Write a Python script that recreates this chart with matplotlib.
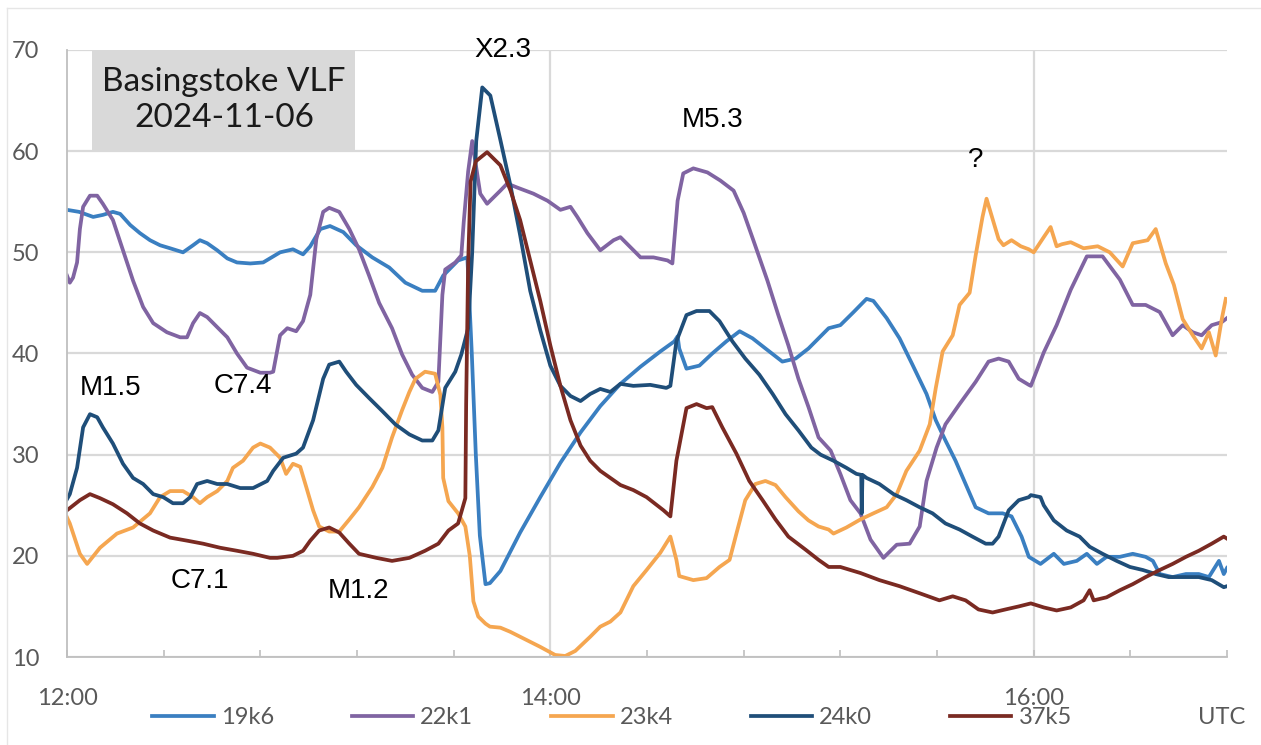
import matplotlib
matplotlib.use("Agg")
import matplotlib.pyplot as plt
from matplotlib.lines import Line2D
from matplotlib.patches import Rectangle
import numpy as np

# Minutes after 12:00 UTC and received signal level for each VLF transmitter
t_19k6 = [0, 3, 6.5, 8.9, 11.4, 13.2, 15.7, 18.1, 20.6, 23.1, 25.6, 28.8, 31.3, 33, 34.8, 37.3, 39.8,
          42.2, 45.5, 48.7, 52.9, 56.1, 58.6, 60.4, 62.9, 65.3, 68.6, 71.8, 75.8, 80, 84, 88.2, 91.4,
          93.4, 97.1, 99.4, 100.5, 101.5, 102.5, 103.9, 105, 107.6, 112.5, 117.5, 122.5, 127.5, 132.4,
          137.4, 142.4, 147.3, 150.8, 151.6, 152.0, 153.8, 157, 160.2, 163.7, 167, 170.2, 173.4, 177.6,
          180.9, 184.1, 189.1, 192, 195.3, 198.5, 200.2, 203.5, 206.7, 209.9, 213.4, 215.7, 218.1, 220.6,
          223.1, 225.6, 228.8, 232.3, 234.5, 237, 238.8, 241.7, 245, 247.5, 250.7, 253.2, 255.7, 258.1,
          261.4, 264.6, 267.8, 269.6, 271.3, 274.5, 277.8, 281, 283.5, 286, 287.2, 288]
v_19k6 = [54.2, 54.0, 53.5, 53.7, 54.0, 53.8, 52.7, 51.9, 51.2, 50.7, 50.4, 50.0, 50.7, 51.2, 50.9, 50.2, 49.4,
          49.0, 48.9, 49.0, 50.0, 50.3, 49.8, 50.6, 52.3, 52.6, 52.0, 50.7, 49.5, 48.5, 47.0, 46.2, 46.2,
          47.7, 49.2, 49.5, 40.0, 30.0, 22.0, 17.2, 17.3, 18.5, 22.3, 25.8, 29.2, 32.2, 34.8,
          37.0, 38.7, 40.2, 41.2, 41.7, 40.5, 38.5, 38.8, 40.0, 41.2, 42.2, 41.5, 40.5, 39.2,
          39.5, 40.5, 42.5, 42.8, 44.1, 45.4, 45.2, 43.5, 41.5, 38.9, 36.0, 33.4, 31.4, 29.4,
          27.1, 24.8, 24.2, 24.2, 23.9, 21.9, 19.9, 19.2, 20.2, 19.2, 19.5, 20.2, 19.2, 19.9,
          19.9, 20.2, 19.9, 19.5, 18.2, 17.9, 18.2, 18.2, 17.9, 19.5, 18.2, 18.8]

t_22k1 = [0, 0.7, 1.5, 2.5, 3.2, 4, 5.7, 7.5, 8.9, 11.4, 13.9, 16.4, 18.9, 21.4, 24.8, 28.1, 29.8, 31.3, 33,
          34.8, 37.3, 39.8, 42.2, 44.7, 48, 50.4, 51.2, 52.9, 54.7, 56.9, 58.6, 60.4, 61.9, 63.6, 65.1,
          67.6, 70.1, 72.5, 75, 77.5, 80.7, 83.2, 85.7, 88.2, 90.7, 92.2, 93.2, 93.9, 96.4, 97.9, 98.5,
          99.6, 100.6, 102.6, 104.3, 107.6, 109.3, 111.8, 115.8, 119.3, 122.5, 125, 126.7, 129.2, 132.4,
          135.7, 137.4, 139.9, 142.4, 145.6, 149.1, 150.3, 151.6, 153, 155.5, 159, 162.2, 165.5, 168,
          170.4, 173.9, 176.6, 179.1, 181.6, 184.1, 186.6, 189.6, 192, 194.5, 197, 199.5, 202.7, 206,
          209.2, 211.7, 213.4, 215.9, 218.1, 221.6, 225.6, 228.8, 231.3, 233.8, 236.3, 238.8, 239.3,
          242.5, 245.7, 249.2, 253.2, 257.1, 261.4, 264.6, 267.8, 271.3, 274.5, 277, 279.5, 281.7,
          284.2, 286.7, 288]
v_22k1 = [47.7, 47.0, 47.5, 49.0, 52.3, 54.5, 55.6, 55.6, 54.8, 53.2, 50.2, 47.2, 44.6, 43.0, 42.1, 41.6, 41.6,
          43.0, 44.0, 43.6, 42.6, 41.6, 40.0, 38.6, 38.1, 38.1, 38.2, 41.8, 42.5, 42.2, 43.2, 45.8, 51.3,
          54.0, 54.4, 54.0, 52.3, 50.3, 47.7, 45.0, 42.5, 39.9, 37.9, 36.6, 36.2, 37.2, 45.8, 48.3, 49.0,
          49.7, 53.0, 58.0, 61.0, 55.8, 54.8, 56.1, 56.8, 56.4, 55.8, 55.1, 54.2, 54.5, 53.5, 51.9, 50.2,
          51.2, 51.5, 50.5, 49.5, 49.5, 49.2, 48.9, 55.1, 57.8, 58.3, 57.9, 57.1, 56.1, 53.9, 51.2, 47.2,
          43.8, 40.8, 37.5, 34.7, 31.7, 30.4, 28.1, 25.5, 24.2, 21.6, 19.8, 21.1, 21.2, 22.9, 27.4, 30.7,
          33.0, 35.0, 37.2, 39.2, 39.5, 39.2, 37.5, 36.9, 36.8, 40.1, 42.8, 46.3, 49.6, 49.6, 47.3, 44.8,
          44.8, 44.1, 41.8, 42.8, 42.1, 41.8, 42.8, 43.1, 43.5]

t_23k4 = [0, 0.7, 3.2, 5, 8.2, 12.4, 16.4, 20.6, 23.1, 25.6, 28.8, 31.3, 33, 34.8, 37.3, 39.8, 41.2, 43.7,
          46.2, 48, 50.4, 52.9, 54.4, 56.1, 57.9, 59.4, 61.1, 62.6, 65.1, 67.6, 70.1, 72.5, 75.8, 78.3,
          80.7, 83.2, 85, 86.5, 88.9, 91.4, 92.7, 93.2, 93.4, 94.7, 97.1, 98.9, 100, 100.9, 102.1, 103.9,
          105, 107.6, 110, 112.5, 117.5, 121.2, 123.7, 126.2, 129.9, 132.4, 134.9, 137.4, 140.6, 143.9,
          147.3, 149.8, 151.3, 152, 155.5, 158.8, 162, 164.5, 166.2, 168.4, 170.9, 173.4, 175.9, 178.4,
          181.6, 184.1, 186.6, 189.1, 190.3, 193.5, 197, 200.2, 203.5, 206, 208.4, 211.7, 214.2, 215.7,
          217.4, 219.9, 221.6, 224.1, 225.6, 227.3, 228.3, 231.3, 232.5, 234.5, 236.8, 238.8, 240,
          242.5, 244.2, 245.7, 247, 249.2, 252.4, 255.9, 258.9, 262.1, 264.6, 268.3, 270.3, 272.8,
          274.8, 277, 279.5, 281.7, 283.5, 285.2, 286.7, 287.7]
v_23k4 = [23.8, 23.2, 20.2, 19.2, 20.8, 22.2, 22.8, 24.2, 25.8, 26.4, 26.4, 25.8, 25.2, 25.8, 26.4, 27.4, 28.7,
          29.4, 30.7, 31.1, 30.7, 29.7, 28.1, 29.1, 28.8, 26.8, 24.5, 22.9, 22.4, 22.4, 23.6, 24.8, 26.8,
          28.7, 31.7, 34.4, 36.2, 37.5, 38.2, 38.0, 35.9, 32.7, 27.7, 25.4, 24.2, 22.9, 20.0, 15.5, 14.0,
          13.3, 13.0, 12.9, 12.5, 12.0, 11.0, 10.2, 10.1, 10.6, 12.0, 13.0, 13.5, 14.4, 17.0, 18.6, 20.3,
          21.9, 19.6, 18.0, 17.6, 17.8, 18.9, 19.6, 22.2, 25.5, 27.1, 27.4, 27.0, 25.8, 24.4, 23.5, 22.9,
          22.6, 22.2, 22.8, 23.6, 24.2, 24.8, 26.1, 28.4, 30.4, 33.0, 36.6, 40.2, 41.8, 44.8, 46.0, 49.7,
          53.5, 55.3, 51.3, 50.7, 51.2, 50.6, 50.3, 50.0, 51.5, 52.5, 50.6, 50.8, 51.0, 50.4, 50.6, 50.0,
          48.6, 50.9, 51.2, 52.3, 48.9, 46.8, 43.4, 41.8, 40.5, 42.1, 39.8, 43.4, 45.4]

t_24k0 = [0, 0.7, 2.5, 4, 5.7, 7.5, 8.9, 11.4, 13.9, 16.4, 18.9, 21.4, 23.9, 26.3, 28.8, 30.6, 32.3, 34.8,
          37.3, 39.8, 43, 46.2, 49.7, 51.2, 53.7, 56.9, 58.6, 61.1, 63.6, 65.1, 67.6, 69.3, 71.8, 75, 78.3,
          81.5, 85, 88.2, 90.7, 92.2, 93.9, 96.4, 97.9, 99.6, 100.6, 101.6, 103.1, 105.1, 107.6, 110.1,
          112.5, 115, 117.5, 120, 122.5, 125, 127.5, 129.9, 132.4, 134.9, 137.4, 140.6, 144.8, 148.8,
          149.8, 151.3, 153.8, 156.3, 159.5, 162, 165.2, 168.4, 171.9, 175.2, 178.4, 181.6, 184.8, 187.1,
          190.3, 193.5, 196, 197.2, 197.3, 197.5, 198.5, 201.7, 205.2, 208.4, 211.7, 214.9, 218.1, 221.6,
          224.8, 228.1, 229.8, 231.3, 233.8, 236.3, 238.8, 239.3, 241.7, 242.5, 245, 248.2, 251.4,
          253.9, 257.1, 260.6, 263.9, 267.1, 270.3, 273.5, 277.8, 281, 284.2, 287.2, 288]
v_24k0 = [25.6, 26.1, 28.7, 32.7, 34.0, 33.7, 32.7, 31.1, 29.1, 27.7, 27.1, 26.1, 25.8, 25.2, 25.2, 25.8, 27.1,
          27.4, 27.1, 27.1, 26.7, 26.7, 27.4, 28.4, 29.7, 30.1, 30.7, 33.4, 37.5, 38.9, 39.2, 38.2, 36.9,
          35.6, 34.3, 33.0, 32.0, 31.4, 31.4, 32.4, 36.6, 38.2, 39.9, 42.5, 50.0, 61.0, 66.3, 65.5, 61.1,
          56.6, 51.7, 46.2, 42.3, 38.8, 36.8, 35.8, 35.3, 36.0, 36.5, 36.2, 37.0, 36.8, 36.9, 36.6, 36.8,
          41.2, 43.8, 44.2, 44.2, 43.2, 41.2, 39.5, 37.9, 36.0, 34.0, 32.4, 30.7, 30.0, 29.4, 28.7, 28.1,
          28.0, 24.2, 28.0, 27.7, 27.1, 26.1, 25.5, 24.8, 24.2, 23.2, 22.6, 21.9, 21.2, 21.2, 21.9, 24.5,
          25.5, 25.8, 26.0, 25.8, 25.0, 23.5, 22.5, 21.9, 20.9, 20.2, 19.5, 18.9, 18.6, 18.2, 17.9, 17.9,
          17.9, 17.6, 16.9, 17.0]

t_37k5 = [0, 3.2, 5.7, 8.2, 11.4, 14.9, 18.1, 21.4, 25.6, 29.8, 33.8, 38, 42.2, 46.2, 50.4, 52.2, 56.1, 58.6,
          60.4, 62.6, 65.1, 67.6, 70.1, 72.5, 76.8, 80.7, 85, 88.9, 92.2, 94.7, 97.1, 98.9, 99.1, 99.6,
          100.2, 101.5, 104.3, 107.6, 110.1, 112.5, 115, 117.5, 120, 122.5, 125, 127.5, 129.9, 132.4,
          137.4, 140.6, 143.9, 148.1, 149.8, 151.3, 153.8, 156.3, 158.8, 160.2, 162.7, 166.2, 169.4,
          172.7, 175.9, 179.1, 183.4, 186.6, 189.1, 192, 197, 201.7, 206.7, 211.7, 216.6, 219.9, 223.1,
          226.3, 229.8, 233, 236.3, 239.3, 242.5, 245.7, 249.2, 252.4, 253.9, 254.9, 258.1, 261.4,
          264.6, 267.8, 271.3, 274.5, 277.8, 281, 284.2, 287.2, 288]
v_37k5 = [24.5, 25.5, 26.1, 25.7, 25.1, 24.2, 23.2, 22.5, 21.8, 21.5, 21.2, 20.8, 20.5, 20.2, 19.8, 19.8, 20.0,
          20.5, 21.5, 22.5, 22.8, 22.3, 21.2, 20.2, 19.8, 19.5, 19.8, 20.5, 21.2, 22.5, 23.2, 25.7, 35.0,
          49.0, 57.0, 59.0, 59.9, 58.6, 56.1, 53.2, 49.2, 45.2, 40.8, 36.8, 33.4, 30.9, 29.4, 28.4, 27.0,
          26.5, 25.8, 24.5, 23.9, 29.4, 34.6, 35.0, 34.6, 34.7, 32.7, 30.1, 27.4, 25.5, 23.6, 21.9, 20.6,
          19.6, 18.9, 18.9, 18.3, 17.6, 17.0, 16.3, 15.6, 16.0, 15.6, 14.7, 14.4, 14.7, 15.0, 15.3, 14.9,
          14.6, 14.9, 15.6, 16.6, 15.6, 15.9, 16.6, 17.2, 17.9, 18.6, 19.2, 19.9, 20.5, 21.2, 21.9, 21.7]

series_names = ["19k6", "22k1", "23k4", "24k0", "37k5"]
series_colors = ["#3a7fc1", "#8064a2", "#f5a650", "#1f4e79", "#7a2a22"]
series_t = [t_19k6, t_22k1, t_23k4, t_24k0, t_37k5]
series_v = [v_19k6, v_22k1, v_23k4, v_24k0, v_37k5]

# Flare labels: (minutes after 12:00, level, text)
flare_t = [10.7, 43.7, 33.0, 72.3, 108.3, 160.2, 225.6]
flare_v = [36.6, 36.8, 17.5, 16.5, 70.0, 63.1, 59.1]
flare_txt = ["M1.5", "C7.4", "C7.1", "M1.2", "X2.3", "M5.3", "?"]

tick_minutes = list(range(0, 289, 24))
tick_text = {0: "12:00", 120: "14:00", 240: "16:00"}
y_ticks = [10, 20, 30, 40, 50, 60, 70]

label_font = ["Lato", "DejaVu Sans"]
grey_txt = "#595959"
grid_col = "#d9d9d9"

fig = plt.figure(figsize=(12.61, 7.45), dpi=100)
fig.patch.set_facecolor("white")

# faint outer chart border
fig.add_artist(Line2D([7 / 1261, 1.0], [1 - 8 / 745, 1 - 8 / 745], color="#e6e6e6", lw=1.0))
fig.add_artist(Line2D([7 / 1261, 7 / 1261], [0.0, 1 - 8 / 745], color="#e6e6e6", lw=1.0))

ax = fig.add_axes([67 / 1261, 1 - 657 / 745, 1160 / 1261, 607 / 745])
ax.set_xlim(0, 288)
ax.set_ylim(10, 70)

for s in ["top", "right"]:
    ax.spines[s].set_visible(False)
ax.spines["left"].set_color("#bfbfbf")
ax.spines["bottom"].set_color("#bfbfbf")
ax.spines["left"].set_linewidth(1.3)
ax.spines["bottom"].set_linewidth(1.3)

ax.set_yticks(y_ticks)
ax.set_yticklabels([str(v) for v in y_ticks])
ax.yaxis.grid(True, color=grid_col, lw=1.6)
ax.set_axisbelow(True)
for m in (120, 240):
    ax.axvline(m, color=grid_col, lw=1.6, zorder=0)

ax.set_xticks(tick_minutes)
ax.set_xticklabels([tick_text.get(m, "") for m in tick_minutes])
ax.tick_params(axis="x", direction="in", length=5, width=1.2, color="#bfbfbf",
               pad=22, labelsize=17, labelcolor=grey_txt)
ax.tick_params(axis="y", length=0, pad=20, labelsize=17, labelcolor=grey_txt)
for lab in ax.get_xticklabels() + ax.get_yticklabels():
    lab.set_fontfamily(label_font)

handles = []
for name, col, tt, vv in zip(series_names, series_colors, series_t, series_v):
    h, = ax.plot(tt, vv, color=col, lw=2.7, solid_joinstyle="round", label=name)
    handles.append(h)

# title box
ax.add_patch(Rectangle((25 / 1160, 1 - 100 / 607), 263 / 1160, 100 / 607,
                       transform=ax.transAxes, facecolor="#d9d9d9", edgecolor="none", zorder=3))
ax.text(157 / 1160, 1 - 50 / 607, "Basingstoke VLF\n2024-11-06", transform=ax.transAxes,
        ha="center", va="center", fontsize=24, family=label_font, color="#1a1a1a",
        linespacing=1.25, zorder=4)

for mt, mv, txt in zip(flare_t, flare_v, flare_txt):
    ax.text(mt, mv, txt, ha="center", va="center", fontsize=20,
            family=["Liberation Sans", "DejaVu Sans"], color="black", clip_on=False, zorder=5)

leg = fig.legend(handles=handles, labels=series_names, loc="center", ncol=5,
                 bbox_to_anchor=(612 / 1261, 1 - 718 / 745), frameon=False,
                 handlelength=2.6, handletextpad=0.3, columnspacing=3.3,
                 prop={"family": label_font, "size": 17})
for txt in leg.get_texts():
    txt.set_color(grey_txt)

fig.text(1222 / 1261, 1 - 718 / 745, "UTC", ha="center", va="center",
         fontsize=17, family=label_font, color=grey_txt)

fig.savefig("out.png", dpi=100, facecolor="white")
